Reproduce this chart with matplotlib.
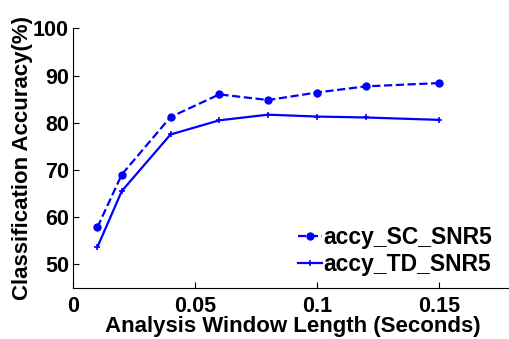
import matplotlib
matplotlib.use('Agg')
from matplotlib import pyplot as plt

# window length (seconds) and accuracies (%)
win_len = [0.01, 0.02, 0.04, 0.06, 0.08, 0.10, 0.12, 0.15]
accy_sc = [57.8, 69.0, 81.2, 86.0, 84.8, 86.4, 87.7, 88.4]
accy_td = [53.6, 65.5, 77.5, 80.5, 81.7, 81.3, 81.1, 80.6]
labels = ['accy_SC_SNR5', 'accy_TD_SNR5']

plt.rcParams['font.family'] = ['Liberation Sans', 'DejaVu Sans']
plt.rcParams['font.weight'] = 'bold'

fig = plt.figure(figsize=(5.09, 3.39), dpi=100)
ax = fig.add_axes([0.1434, 0.1513, 0.8625, 0.765])

ax.plot(win_len, accy_sc, color='blue', linestyle='--', linewidth=1.6,
        marker='.', markersize=10, label=labels[0])
ax.plot(win_len, accy_td, color='blue', linestyle='-', linewidth=1.6,
        marker='+', markersize=4, markeredgewidth=1.2, label=labels[1])

ax.set_xlim(0, 0.18)
ax.set_ylim(45, 100)
ax.set_xticks([0, 0.05, 0.1, 0.15])
ax.set_xticklabels(['0', '0.05', '0.1', '0.15'])
ax.set_yticks([50, 60, 70, 80, 90, 100])

ax.spines['top'].set_visible(False)
ax.spines['right'].set_visible(False)
ax.tick_params(direction='in', length=4, labelsize=15.5)
ax.tick_params(axis='x', pad=6)
ax.tick_params(axis='y', pad=3)
for lab in ax.get_xticklabels() + ax.get_yticklabels():
    lab.set_fontweight('bold')

ax.set_xlabel('Analysis Window Length (Seconds)', fontsize=16, fontweight='bold')
ax.set_ylabel('Classification Accuracy(%)', fontsize=16, fontweight='bold')
ax.xaxis.set_label_coords(0.5, -0.15)
ax.xaxis.label.set_va('center')
ax.yaxis.set_label_coords(-0.116, 0.5)
ax.yaxis.label.set_va('center')

ax.legend(loc='center left', bbox_to_anchor=(0.5125, 0.14), frameon=False, fontsize=16.5,
          handlelength=1.05, handletextpad=0.05, labelspacing=0.18,
          borderpad=0, borderaxespad=0)

fig.savefig('out.png', dpi=100)
